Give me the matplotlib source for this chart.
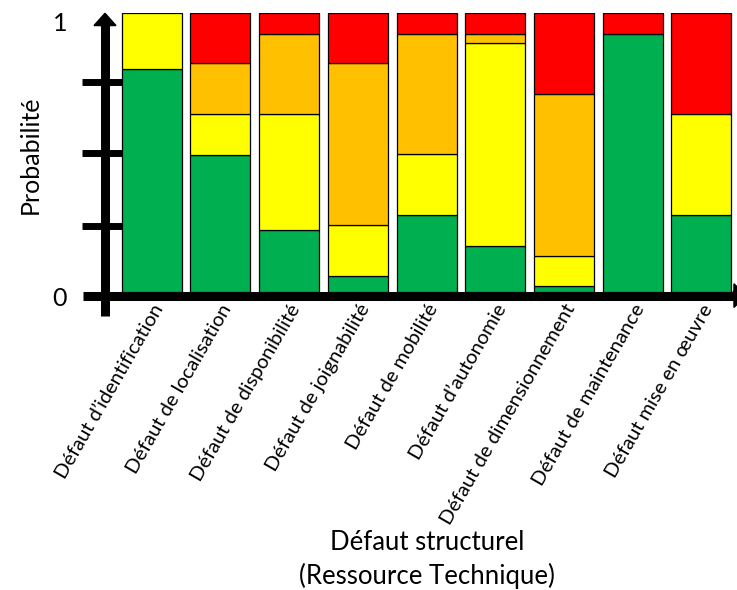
import matplotlib
matplotlib.use("Agg")
import matplotlib.pyplot as plt
import numpy as np

plt.rcParams['font.family'] = ['Lato', 'DejaVu Sans']

categories = ["Défaut d’identification", "Défaut de localisation", "Défaut de disponibilité",
              "Défaut de joignabilité", "Défaut de mobilité", "Défaut d’autonomie",
              "Défaut de dimensionnement", "Défaut de maintenance", "Défaut mise en œuvre"]
vert = [0.80, 0.49, 0.22, 0.057, 0.274, 0.165, 0.02, 0.927, 0.274]
jaune = [0.20, 0.147, 0.417, 0.181, 0.219, 0.727, 0.11, 0.0, 0.363]
orange = [0.0, 0.183, 0.29, 0.582, 0.434, 0.035, 0.579, 0.0, 0.0]
rouge = [0.0, 0.18, 0.073, 0.18, 0.073, 0.073, 0.291, 0.073, 0.363]

series = [(vert, "#00B050"), (jaune, "#FFFF00"), (orange, "#FFC000"), (rouge, "#FF0000")]

W, H = 737, 590
fig = plt.figure(figsize=(W / 100, H / 100), dpi=100)
ax = fig.add_axes([105 / W, 1 - 291.7 / H, 630 / W, 278.4 / H])
ax.set_xlim(-0.68, 8.49)
ax.set_ylim(0, 1)

x = np.arange(len(categories))
bottom = np.zeros(len(categories))
for vals, col in series:
    vals = np.array(vals)
    mask = vals > 0
    ax.bar(x[mask], vals[mask], bottom=bottom[mask], width=0.873, color=col,
           edgecolor="black", linewidth=0.9, zorder=2)
    bottom += vals

for s in ax.spines.values():
    s.set_visible(False)
ax.set_yticks([])
ax.set_xticks(x)
ax.set_xticklabels(categories, rotation=60, ha="right", va="top",
                   rotation_mode="anchor", fontsize=14.5)
ax.tick_params(axis="x", length=0, pad=7)

# axes drawn as thick arrows
ax.plot([-1.004, 8.48], [-0.014, -0.014], color="black", lw=6.5,
        solid_capstyle="butt", clip_on=False, zorder=3)
ax.arrow(8.465, -0.014, 0.01, 0, width=0.03, head_width=0.085, head_length=0.175,
         length_includes_head=False, color="black", clip_on=False, zorder=3)
ax.plot([-0.68, -0.68], [-0.088, 0.96], color="black", lw=6.5,
        solid_capstyle="butt", clip_on=False, zorder=3)
ax.arrow(-0.68, 0.955, 0, 0.001, width=0.12, head_width=0.32, head_length=0.044,
         color="black", clip_on=False, zorder=3)
for yt in [0.235, 0.5, 0.755]:
    ax.plot([-1.02, -0.43], [yt, yt], color="black", lw=5,
            solid_capstyle="butt", clip_on=False, zorder=3)

ax.text(-1.335, 0.965, "1", ha="center", va="center", fontsize=18)
ax.text(-1.335, -0.023, "0", ha="center", va="center", fontsize=18)

fig.text(30 / W, 1 - 155 / H, "Probabilité", rotation=90, ha="center", va="center", fontsize=18)
fig.text(427 / W, 1 - 542 / H, "Défaut structurel", ha="center", va="center", fontsize=18.5)
fig.text(427 / W, 1 - 576 / H, "(Ressource Technique)", ha="center", va="center", fontsize=18.5)

fig.savefig("out.png", dpi=100)
